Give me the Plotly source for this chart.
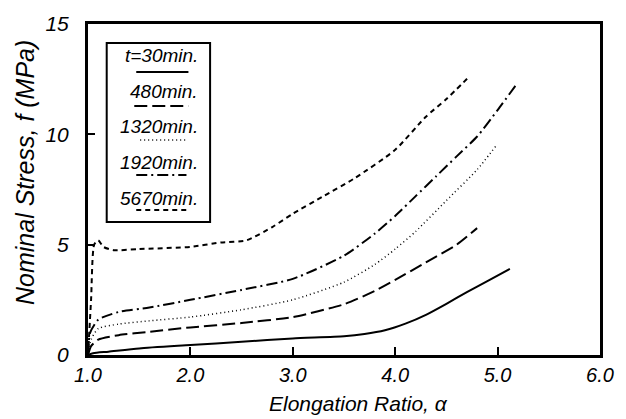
import plotly.graph_objects as go

# ---- data ----
x_30 = [1.0, 1.05, 1.2, 1.5, 2.0, 2.5, 3.0, 3.5, 3.7, 3.9, 4.1, 4.3, 4.5, 4.7, 4.9, 5.12]
y_30 = [0.0, 0.08, 0.15, 0.3, 0.45, 0.6, 0.75, 0.85, 0.95, 1.12, 1.42, 1.82, 2.32, 2.85, 3.35, 3.9]

x_480 = [1.0, 1.03, 1.1, 1.3, 1.6, 2.0, 2.5, 3.0, 3.5, 3.8, 4.0, 4.3, 4.6, 4.8]
y_480 = [0.0, 0.4, 0.7, 0.9, 1.05, 1.25, 1.45, 1.72, 2.3, 2.9, 3.4, 4.2, 5.0, 5.75]

x_1320 = [1.0, 1.03, 1.1, 1.3, 1.6, 2.0, 2.5, 3.0, 3.5, 3.8, 4.0, 4.2, 4.5, 4.8, 4.98]
y_1320 = [0.0, 0.7, 1.2, 1.4, 1.55, 1.72, 2.05, 2.5, 3.3, 4.1, 4.8, 5.6, 7.0, 8.4, 9.45]

x_1920 = [1.0, 1.02, 1.1, 1.3, 1.6, 2.0, 2.5, 3.0, 3.5, 3.8, 4.0, 4.2, 4.4, 4.6, 4.8, 5.0, 5.19]
y_1920 = [0.0, 1.0, 1.6, 1.95, 2.15, 2.5, 2.95, 3.45, 4.5, 5.5, 6.3, 7.2, 8.1, 9.0, 9.9, 11.1, 12.3]

x_5670 = [1.0, 1.03, 1.06, 1.1, 1.15, 1.25, 1.5, 2.0, 2.3, 2.55, 2.8, 3.0, 3.3, 3.6, 4.0, 4.3, 4.5, 4.72]
y_5670 = [0.0, 2.5, 5.0, 5.2, 4.9, 4.75, 4.8, 4.9, 5.1, 5.2, 5.8, 6.4, 7.2, 8.0, 9.3, 10.8, 11.6, 12.6]

labels = ["t=30min.", "480min.", "1320min.", "1920min.", "5670min."]
x_ticks = [1.0, 2.0, 3.0, 4.0, 5.0, 6.0]
x_ticktext = ["1.0", "2.0", "3.0", "4.0", "5.0", "6.0"]
y_ticks = [0, 5, 10, 15]
x_title = "Elongation Ratio, α"
y_title = "Nominal Stress, f (MPa)"

series = [(x_30, y_30), (x_480, y_480), (x_1320, y_1320), (x_1920, y_1920), (x_5670, y_5670)]
dashes = ["solid", "13px,5px", "1px,3px", "11px,4px,2px,4px", "5px,4px"]
widths = [2, 2, 1.5, 2, 2]

FONT = "Liberation Sans, Arial, sans-serif"

fig = go.Figure()
for (xs, ys), lab, d, w in zip(series, labels, dashes, widths):
    fig.add_trace(go.Scatter(x=xs, y=ys, mode="lines", name=lab,
                             line=dict(color="black", width=w, dash=d, shape="spline", smoothing=0.6),
                             showlegend=False))

W, H = 626, 419
L, R, T, B = 88, 18, 24, 64
pw, ph = W - L - R, H - T - B


def px(xp):
    return (xp - L) / pw


def py(yp):
    return (H - B - yp) / ph


# custom legend (text above the line sample, as in the original)
fig.add_shape(type="rect", xref="paper", yref="paper",
              x0=px(107), x1=px(212), y0=py(222), y1=py(43),
              line=dict(color="black", width=2), fillcolor="white")
text_y = [56, 92, 127, 163, 198]
line_y = [72, 106, 140, 175, 210]
line_x = [(137, 190), (135, 190), (141, 188), (137, 188), (137, 190)]
for lab, ty, ly, (lx0, lx1), d, w in zip(labels, text_y, line_y, line_x, dashes, widths):
    fig.add_annotation(xref="paper", yref="paper", x=px(202), y=py(ty),
                       text=lab, showarrow=False, xanchor="right", yanchor="middle",
                       font=dict(family=FONT, size=19, color="black", style="italic"))
    fig.add_shape(type="line", xref="paper", yref="paper",
                  x0=px(lx0), x1=px(lx1), y0=py(ly), y1=py(ly),
                  line=dict(color="black", width=w, dash=d))

# axis titles
fig.add_annotation(xref="paper", yref="paper", x=px(363), y=py(403),
                   text=x_title, showarrow=False, xanchor="center", yanchor="middle",
                   font=dict(family=FONT, size=21, color="black", style="italic"))
fig.add_annotation(xref="paper", yref="paper", x=px(24), y=py(172),
                   text=y_title, showarrow=False, xanchor="center", yanchor="middle",
                   textangle=-90,
                   font=dict(family=FONT, size=25, color="black", style="italic"))

fig.update_xaxes(range=[1, 6], tickvals=x_ticks, ticktext=x_ticktext,
                 ticks="inside", ticklen=8, tickwidth=1.5, tickcolor="black",
                 showline=True, linecolor="black", linewidth=3, mirror=True,
                 showgrid=False, zeroline=False, ticklabelstandoff=0,
                 tickfont=dict(family=FONT, size=20, color="black", style="italic"))
fig.update_yaxes(range=[0, 15], tickvals=y_ticks,
                 ticks="inside", ticklen=7, tickwidth=1.5, tickcolor="black",
                 showline=True, linecolor="black", linewidth=3, mirror=True,
                 showgrid=False, zeroline=False, ticklabelstandoff=12,
                 tickfont=dict(family=FONT, size=21, color="black", style="italic"))

fig.update_layout(width=W, height=H, margin=dict(l=L, r=R, t=T, b=B),
                  plot_bgcolor="white", paper_bgcolor="white", showlegend=False)

fig.write_html("out.html")
